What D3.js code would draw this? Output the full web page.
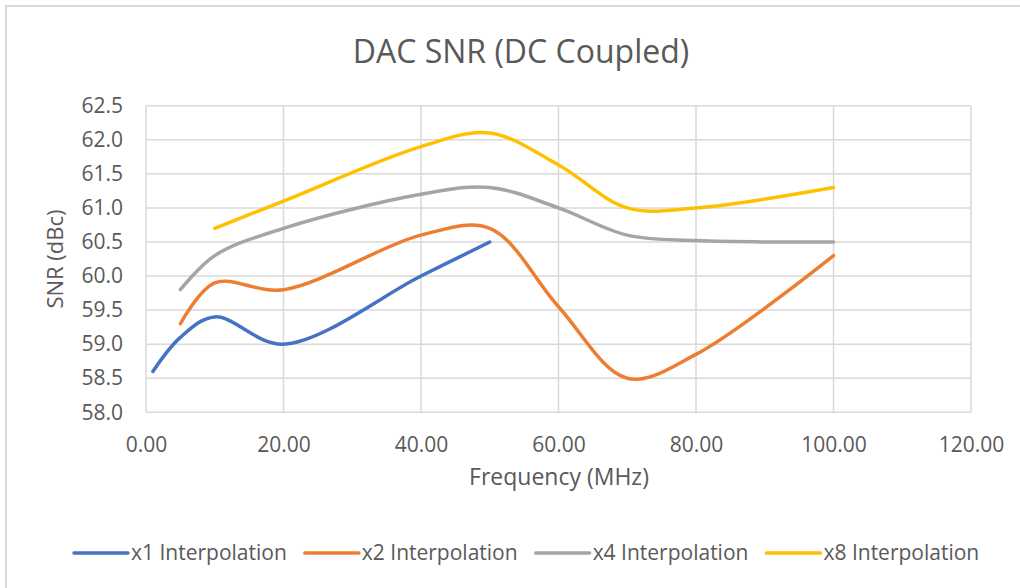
<!DOCTYPE html>
<html>
<head>
<meta charset="utf-8">
<script src="https://cdn.jsdelivr.net/npm/d3@7"></script>
<style>
  body { margin: 0; background: #fff; }
  svg text { font-family: "Open Sans", sans-serif; fill: #595959; }
</style>
</head>
<body>
<div id="chart"></div>
<script>
// frequencies (MHz) where the curves were read
var freqs = [1, 5, 10, 20, 40, 50, 60, 70, 80, 100];
var seriesNames = ["x1 Interpolation", "x2 Interpolation", "x4 Interpolation", "x8 Interpolation"];
var x1Values = [58.6, 59.1, 59.4, 59.0, 60.0, 60.5, null, null, null, null];
var x2Values = [null, 59.3, 59.9, 59.8, 60.6, 60.7, 59.55, 58.5, 58.85, 60.3];
var x4Values = [null, 59.8, 60.3, 60.7, 61.2, 61.3, 61.0, 60.6, 60.52, 60.5];
var x8Values = [null, null, 60.7, 61.1, 61.9, 62.1, 61.63, 61.0, 61.0, 61.3];
var xTicks = [0, 20, 40, 60, 80, 100, 120];
var yTicks = [58.0, 58.5, 59.0, 59.5, 60.0, 60.5, 61.0, 61.5, 62.0, 62.5];
var colors = ["#4472C4", "#ED7D31", "#A5A5A5", "#FFC000"];

var width = 1020, height = 588;
var plotLeft = 146, plotRight = 971, plotTop = 105.7, plotBottom = 412.3;

var svg = d3.select("#chart").append("svg").attr("width", width).attr("height", height);

// chart frame
svg.append("rect").attr("x", 6).attr("y", 6).attr("width", width + 10).attr("height", height + 10)
  .attr("fill", "#fff").attr("stroke", "#d9d9d9").attr("stroke-width", 2);

var x = d3.scaleLinear().domain([0, 120]).range([plotLeft, plotRight]);
var y = d3.scaleLinear().domain([58, 62.5]).range([plotBottom, plotTop]);

// gridlines
var grid = svg.append("g").attr("stroke", "#d9d9d9").attr("stroke-width", 1.5);
grid.selectAll(".h").data(yTicks).enter().append("line")
  .attr("x1", plotLeft).attr("x2", plotRight).attr("y1", function (d) { return y(d); }).attr("y2", function (d) { return y(d); });
grid.selectAll(".v").data(xTicks).enter().append("line")
  .attr("y1", plotTop).attr("y2", plotBottom).attr("x1", function (d) { return x(d); }).attr("x2", function (d) { return x(d); });

// axes (labels only)
var yAxis = svg.append("g").attr("transform", "translate(" + plotLeft + ",0)")
  .call(d3.axisLeft(y).tickValues(yTicks).tickFormat(d3.format(".1f")).tickSize(0).tickPadding(23));
var xAxis = svg.append("g").attr("transform", "translate(0," + plotBottom + ")")
  .call(d3.axisBottom(x).tickValues(xTicks).tickFormat(d3.format(".2f")).tickSize(0).tickPadding(25));
[yAxis, xAxis].forEach(function (a) {
  a.select(".domain").remove();
  a.selectAll("text").attr("font-size", 21).attr("fill", "#595959").attr("font-family", "Open Sans");
});

// lines
var allValues = [x1Values, x2Values, x4Values, x8Values];
var line = d3.line()
  .x(function (d) { return x(d.f); })
  .y(function (d) { return y(d.v); })
  .curve(d3.curveCatmullRom.alpha(0.5));

allValues.forEach(function (vals, i) {
  var pts = freqs.map(function (f, j) { return { f: f, v: vals[j] }; }).filter(function (d) { return d.v != null; });
  svg.append("path").datum(pts).attr("d", line)
    .attr("fill", "none").attr("stroke", colors[i]).attr("stroke-width", 3.5)
    .attr("stroke-linecap", "round").attr("stroke-linejoin", "round");
});

// titles
svg.append("text").attr("x", 521).attr("y", 63).attr("text-anchor", "middle")
  .attr("font-size", 32).text("DAC SNR (DC Coupled)");
svg.append("text").attr("x", 559).attr("y", 485).attr("text-anchor", "middle")
  .attr("font-size", 23).text("Frequency (MHz)");
svg.append("text").attr("transform", "translate(63,259) rotate(-90)").attr("text-anchor", "middle")
  .attr("font-size", 22).text("SNR (dBc)");

// legend
var lx = 74;
seriesNames.forEach(function (name, i) {
  svg.append("line").attr("x1", lx).attr("x2", lx + 54).attr("y1", 553).attr("y2", 553)
    .attr("stroke", colors[i]).attr("stroke-width", 3.5).attr("stroke-linecap", "round");
  var t = svg.append("text").attr("x", lx + 57).attr("y", 560).attr("font-size", 21).text(name);
  lx = lx + 57 + t.node().getComputedTextLength() + 18;
});
</script>
</body>
</html>
